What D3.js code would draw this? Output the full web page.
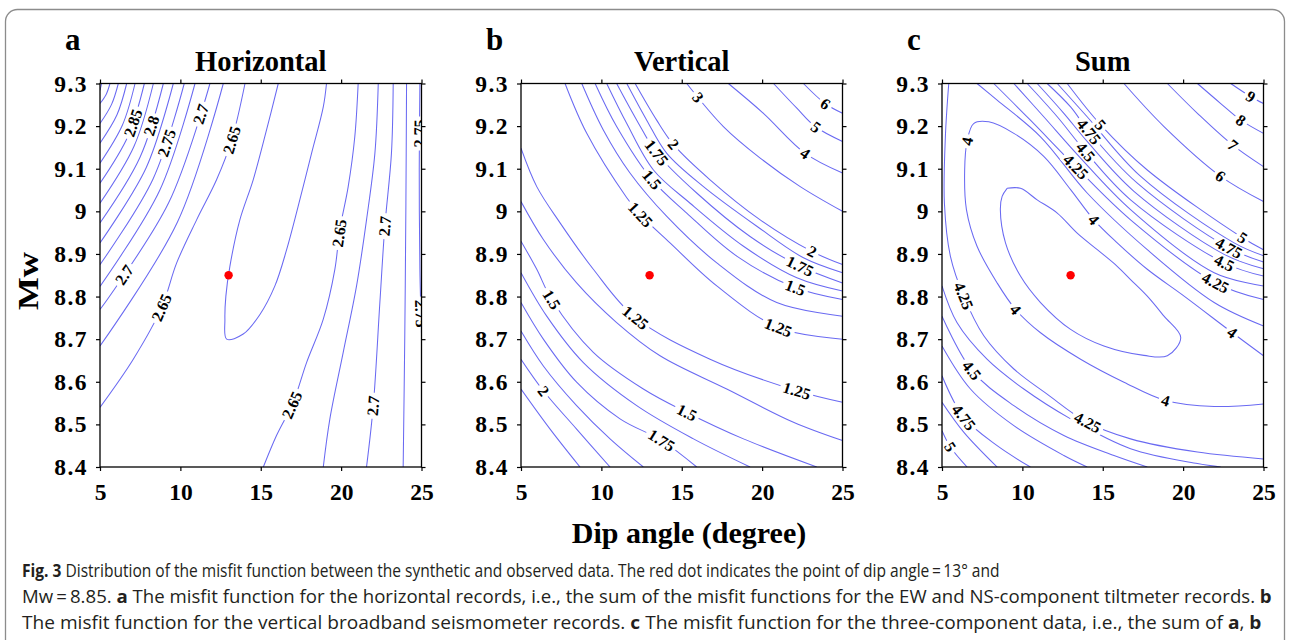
<!DOCTYPE html>
<html><head><meta charset="utf-8">
<script src="https://cdn.jsdelivr.net/npm/d3@7"></script>
<style>body{margin:0;background:#fff}</style></head>
<body><svg id="fig" width="1290" height="640"></svg>
<script>
// ---------- data ----------
const xTickValues=[5,10,15,20,25];
const xTickLabels=["5","10","15","20","25"];
const yTickValues=[8.4,8.5,8.6,8.7,8.8,8.9,9.0,9.1,9.2,9.3];
const yTickLabels=["8.4","8.5","8.6","8.7","8.8","8.9","9","9.1","9.2","9.3"];
const panelLetters=["a","b","c"];
const panelTitles=["Horizontal","Vertical","Sum"];
const bestDip=13, bestMw=8.85;
const xLabel="Dip angle (degree)", yLabel="Mw";

// contour lines: [level, [[dip, Mw], ...]]
const horizontalLines=[
 ["2.975",[[5.10,9.3],[5,9.284]]],
 ["2.95",[[5.62,9.3],[5.39,9.275],[5,9.253]]],
 ["2.925",[[6.14,9.3],[5.72,9.251],[5,9.206]]],
 ["2.9",[[6.66,9.3],[6.05,9.226],[5,9.160]]],
 ["2.875",[[7.18,9.3],[6.39,9.202],[5,9.113]]],
 ["2.85",[[7.76,9.3],[6.75,9.177],[5,9.066]]],
 ["2.825",[[8.32,9.3],[7.11,9.152],[5,9.019]]],
 ["2.8",[[8.94,9.3],[7.49,9.127],[5,8.973]]],
 ["2.775",[[9.56,9.3],[7.88,9.103],[5,8.926]]],
 ["2.75",[[10.24,9.3],[8.30,9.076],[5,8.875]]],
 ["2.725",[[10.91,9.3],[8.71,9.049],[5,8.824]]],
 ["2.7",[[11.84,9.3],[9.27,9.020],[5,8.770]]],
 ["2.675",[[12.67,9.3],[9.82,8.975],[5,8.684]]],
 ["2.65",[[14.02,9.3],[13.19,9.167],[12.25,9.074],[11.01,8.980],[9.77,8.879],[8.83,8.774],[7.07,8.653],[5,8.540]]],
 ["2.625",[[16.09,9.3],[15.36,9.191],[14.53,9.074],[13.70,8.980],[13.08,8.871],[12.83,8.801],[12.77,8.747],[12.88,8.700],[13.91,8.712],[14.95,8.758],[15.88,8.825],[16.61,8.910],[17.33,9.012],[18.16,9.136],[18.89,9.245],[19.09,9.3]]],
 ["2.65",[[21.06,9.3],[20.85,9.175],[20.44,9.058],[19.92,8.957],[19.61,8.864],[18.89,8.747],[17.85,8.645],[17.02,8.552],[15.98,8.474],[15.16,8.4]]],
 ["2.675",[[22.31,9.3],[22.10,9.136],[21.58,8.980],[20.96,8.825],[20.13,8.669],[19.30,8.513],[18.89,8.4]]],
 ["2.7",[[23.24,9.3],[23.13,9.136],[22.72,8.965],[22.41,8.786],[22.0,8.544],[21.58,8.4]]],
 ["2.725",[[24.07,9.3],[24.03,9.019],[23.96,8.708],[23.86,8.4]]],
 ["2.75",[[24.90,9.3],[24.86,9.097],[24.90,8.864],[25.0,8.715]]]
];
const horizontalLabels=[
 ["2.85",6.76,9.211],["2.8",7.90,9.203],["2.75",8.94,9.164],["2.7",11.32,9.227],
 ["2.65",13.19,9.167],["2.7",6.45,8.852],["2.65",8.83,8.774],["2.65",19.82,8.949],
 ["2.7",22.72,8.965],["2.65",17.02,8.544],["2.7",22.0,8.544],["2.75",24.86,9.183],["2.75",24.92,8.76]
];

const verticalLines=[
 ["6",[[22.57,9.3],[23.92,9.253],[25,9.230]]],
 ["5",[[20.71,9.3],[22.16,9.242],[23.30,9.199],[25,9.164]]],
 ["4",[[17.90,9.3],[20.08,9.230],[22.68,9.136],[25,9.090]]],
 ["3",[[15.31,9.3],[17.59,9.199],[19.88,9.125],[22.37,9.058],[25,9.0]]],
 ["2",[[12.10,9.3],[13.44,9.214],[14.48,9.157],[16.76,9.074],[19.88,8.980],[23.09,8.906],[25,8.875]]],
 ["1.875",[[11.58,9.3],[12.82,9.214],[14.07,9.136],[16.35,9.058],[19.67,8.965],[22.57,8.891],[25,8.856]]],
 ["1.75",[[10.95,9.3],[12.20,9.214],[13.44,9.137],[15.93,9.043],[19.25,8.941],[22.37,8.871],[25,8.832]]],
 ["1.625",[[10.33,9.3],[11.58,9.206],[13.24,9.097],[15.52,9.019],[18.84,8.918],[22.16,8.844],[25,8.813]]],
 ["1.5",[[9.61,9.3],[10.95,9.199],[13.13,9.075],[15.31,8.996],[18.42,8.895],[22.05,8.821],[25,8.793]]],
 ["1.375",[[8.78,9.3],[10.12,9.191],[11.78,9.090],[14.07,8.988],[17.18,8.879],[20.91,8.786],[25,8.754]]],
 ["1.25",[[7.74,9.3],[9.09,9.183],[11.58,9.032],[12.41,8.993],[14.27,8.926],[17.18,8.825],[21.02,8.727],[25,8.700]]],
 ["1.25",[[5,9.148],[5.98,9.058],[7.43,8.973],[9.50,8.864],[12.10,8.751],[16.76,8.653],[22.16,8.579],[25,8.552]]],
 ["1.375",[[5,9.023],[6.39,8.934],[8.46,8.832],[10.95,8.739],[13.65,8.661],[17.80,8.583],[21.95,8.505],[25,8.462]]],
 ["1.5",[[5,8.930],[5.98,8.864],[6.91,8.793],[9.50,8.669],[12.61,8.583],[15.31,8.528],[18.84,8.466],[23.40,8.4]]],
 ["1.625",[[5,8.856],[6.60,8.754],[8.88,8.645],[12.20,8.544],[15.73,8.466],[19.25,8.4]]],
 ["1.75",[[5,8.786],[6.39,8.700],[8.46,8.599],[11.16,8.513],[13.76,8.462],[15.93,8.4]]],
 ["1.875",[[5,8.719],[6.39,8.637],[8.46,8.544],[10.54,8.466],[12.61,8.4]]],
 ["2",[[5,8.653],[6.39,8.579],[8.46,8.489],[10.54,8.4]]],
 ["2.125",[[5,8.583],[6.81,8.489],[8.67,8.4]]]
];
const verticalLabels=[
 ["6",23.92,9.253],["5",23.30,9.195],["4",22.68,9.136],["3",15.83,9.261],
 ["2",14.48,9.157],["1.75",13.44,9.137],["1.5",13.13,9.075],["1.25",12.41,8.993],
 ["2",23.09,8.906],["1.75",22.37,8.871],["1.5",22.05,8.821],["1.25",21.02,8.727],
 ["1.25",12.10,8.751],["1.25",22.16,8.579],["1.5",6.91,8.793],["1.5",15.31,8.528],
 ["1.75",13.76,8.462],["2",6.39,8.579]
];

const sumLines=[
 ["9",[[22.96,9.3],[24.21,9.269],[25,9.253]]],
 ["8",[[20.89,9.3],[22.34,9.253],[23.59,9.214],[25,9.183]]],
 ["7",[[19.02,9.3],[20.89,9.230],[23.07,9.156],[25,9.105]]],
 ["6",[[16.32,9.3],[18.81,9.199],[22.34,9.082],[25,9.023]]],
 ["5",[[12.79,9.3],[14.87,9.203],[17.77,9.097],[23.69,8.938],[25,8.910]]],
 ["4.875",[[12.17,9.3],[14.03,9.222],[17.36,9.082],[23.17,8.926],[25,8.896]]],
 ["4.75",[[11.54,9.3],[13.0,9.245],[14.14,9.187],[17.15,9.066],[22.86,8.914],[25,8.881]]],
 ["4.625",[[10.92,9.3],[12.58,9.230],[14.03,9.164],[16.94,9.047],[22.55,8.899],[25,8.865]]],
 ["4.5",[[10.30,9.3],[12.17,9.222],[13.93,9.140],[16.73,9.027],[22.55,8.879],[25,8.848]]],
 ["4.375",[[9.47,9.3],[11.33,9.222],[13.62,9.125],[16.73,9.004],[21.93,8.856],[25,8.825]]],
 ["4.25",[[8.22,9.3],[10.50,9.214],[13.31,9.105],[16.73,8.980],[22.03,8.832],[25,8.793]]],
 ["4.125",[[7.18,9.3],[8.43,9.261],[11.13,9.175],[14.03,9.043],[17.77,8.910],[21.93,8.786],[25,8.731]]],
 ["4",[[25,8.661],[23.07,8.715],[20.06,8.801],[17.77,8.864],[15.90,8.926],[14.45,8.980],[13.0,9.051],[11.33,9.129],[9.47,9.183],[7.91,9.210],[6.97,9.206],[6.56,9.164],[6.41,9.097],[6.52,9.004],[7.18,8.918],[8.43,8.832],[9.57,8.770],[11.13,8.715],[13.62,8.653],[16.32,8.599],[18.91,8.556],[21.93,8.542],[25,8.548]]],
 ["3.875",[[9.05,9.054],[9.88,9.054],[10.92,9.027],[12.17,8.996],[13.41,8.949],[14.66,8.910],[15.90,8.871],[16.73,8.840],[17.77,8.801],[18.81,8.754],[19.85,8.704],[19.02,8.661],[17.56,8.662],[15.07,8.684],[13.0,8.723],[11.13,8.786],[9.88,8.848],[8.95,8.926],[8.63,9.004],[8.74,9.035],[9.05,9.054]]],
 ["4.25",[[5.42,9.3],[5.21,9.175],[5.15,9.019],[5.52,8.895],[6.35,8.801],[7.60,8.708],[9.47,8.630],[11.54,8.571],[14.03,8.505],[16.73,8.466],[20.89,8.435],[25,8.419]]],
 ["4.375",[[5,8.825],[5.93,8.739],[7.80,8.653],[10.09,8.583],[13.0,8.513],[16.73,8.443],[20.89,8.408],[22.34,8.4]]],
 ["4.5",[[5,8.754],[6.87,8.626],[9.47,8.544],[12.58,8.474],[15.70,8.427],[17.77,8.4]]],
 ["4.625",[[5,8.684],[6.77,8.583],[9.47,8.497],[12.58,8.427],[14.03,8.4]]],
 ["4.75",[[5,8.614],[6.35,8.517],[8.43,8.450],[10.50,8.4]]],
 ["4.875",[[5,8.552],[6.35,8.482],[8.43,8.4]]],
 ["5",[[5,8.485],[5.52,8.447],[6.56,8.4]]]
];
const sumLabels=[
 ["9",24.21,9.269],["8",23.59,9.214],["7",23.07,9.156],["6",22.34,9.082],
 ["5",14.87,9.203],["4.75",14.14,9.187],["4.5",13.93,9.140],["4.25",13.31,9.105],
 ["4",6.56,9.164],["4",14.45,8.980],["5",23.69,8.938],["4.75",22.86,8.914],
 ["4.5",22.55,8.879],["4.25",22.03,8.832],["4",23.07,8.715],["4",9.57,8.770],
 ["4",18.91,8.556],["4.25",6.35,8.801],["4.5",6.87,8.626],["4.75",6.35,8.517],
 ["5",5.52,8.447],["4.25",14.03,8.505]
];

const captionLines=[
 [["Fig. 3",true],["  Distribution of the misfit function between the synthetic and observed data. The red dot indicates the point of dip angle\u2009=\u200913° and",false]],
 [["Mw\u2009=\u20098.85. ",false],["a",true],[" The misfit function for the horizontal records, i.e., the sum of the misfit functions for the EW and NS-component tiltmeter records. ",false],["b",true]],
 [["The misfit function for the vertical broadband seismometer records. ",false],["c",true],[" The misfit function for the three-component data, i.e., the sum of ",false],["a",true],[", ",false],["b",true]]
];

// ---------- drawing ----------
const svg=d3.select("#fig");
const defs=svg.append("defs");
svg.append("rect").attr("width",1290).attr("height",640).attr("fill","#fff");
svg.append("rect").attr("x",5.5).attr("y",9.5).attr("width",1279).attr("height",700)
  .attr("rx",12).attr("fill","none").attr("stroke","#8c8c8c").attr("stroke-width",1.3);

const serif="'Liberation Serif','Times New Roman',serif";
const plotTop=83.5, plotBottom=467, plotW=321.5;
const lefts=[100,521,942];
const panelData=[[horizontalLines,horizontalLabels],[verticalLines,verticalLabels],[sumLines,sumLabels]];
const lineColor="#6a6af2";

panelData.forEach(([lines,labels],i)=>{
  const x=d3.scaleLinear().domain([5,25]).range([lefts[i],lefts[i]+plotW]);
  const y=d3.scaleLinear().domain([8.4,9.3]).range([plotBottom,plotTop]);
  const cid="clip"+i;
  defs.append("clipPath").attr("id",cid).append("rect")
    .attr("x",lefts[i]).attr("y",plotTop).attr("width",plotW).attr("height",plotBottom-plotTop);
  const g=svg.append("g").attr("clip-path",`url(#${cid})`);
  const line=d3.line().x(d=>x(d[0])).y(d=>y(d[1])).curve(d3.curveCatmullRom.alpha(0.5));
  const paths=lines.map(([lev,pts])=>({lev,node:g.append("path").attr("d",line(pts))
     .attr("fill","none").attr("stroke",lineColor).attr("stroke-width",1.05).node()}));
  labels.forEach(([txt,dx,my])=>{
    const tx=x(dx), ty=y(my);
    let best=null;
    paths.filter(q=>q.lev===txt).forEach(q=>{
      const L=q.node.getTotalLength();
      for(let s=0;s<=L;s+=1){const p=q.node.getPointAtLength(s);
        const d=(p.x-tx)**2+(p.y-ty)**2; if(!best||d<best.d)best={d,s,q,L};}
    });
    let px=tx,py=ty,ang=0;
    if(best){
      const a=best.q.node.getPointAtLength(Math.max(0,best.s-5));
      const b=best.q.node.getPointAtLength(Math.min(best.L,best.s+5));
      const p0=best.q.node.getPointAtLength(best.s);
      px=p0.x;py=p0.y;ang=Math.atan2(b.y-a.y,b.x-a.x)*180/Math.PI;
      if(ang>90)ang-=180; if(ang<=-90)ang+=180;
    }
    const lg=g.append("g").attr("transform",`translate(${px},${py}) rotate(${ang})`);
    const t=lg.append("text").text(txt).attr("text-anchor","middle").attr("dy","0.34em")
      .attr("font-family",serif).attr("font-weight","bold").attr("font-size",16).attr("fill","#000");
    const w=t.node().getComputedTextLength();
    lg.insert("rect","text").attr("x",-w/2-3).attr("y",-6).attr("width",w+6).attr("height",12).attr("fill","#fff");
  });
  // red dot
  svg.append("circle").attr("cx",x(bestDip)).attr("cy",y(bestMw)).attr("r",4.2).attr("fill","#f00");
  // axes
  const styleAxis=(sel,labelsOn,ls)=>{
    sel.select(".domain").remove();
    sel.selectAll(".tick line").attr("stroke","#000").attr("stroke-width",1.2);
    sel.selectAll(".tick text").attr("font-family",serif).attr("font-weight","bold")
       .attr("font-size",23.5).attr("letter-spacing",ls).attr("fill","#000");
    if(!labelsOn) sel.selectAll(".tick text").remove();
  };
  svg.append("g").attr("transform",`translate(0,${plotBottom})`)
    .call(d3.axisBottom(x).tickValues(xTickValues).tickFormat((d,k)=>xTickLabels[k]).tickSize(4).tickPadding(12))
    .call(s=>styleAxis(s,true,0));
  svg.append("g").attr("transform",`translate(0,${plotTop})`)
    .call(d3.axisTop(x).tickValues(xTickValues).tickSize(4)).call(s=>styleAxis(s,false,0));
  svg.append("g").attr("transform",`translate(${lefts[i]},0)`)
    .call(d3.axisLeft(y).tickValues(yTickValues).tickFormat((d,k)=>yTickLabels[k]).tickSize(4).tickPadding(8))
    .call(s=>styleAxis(s,true,1.5));
  svg.append("g").attr("transform",`translate(${lefts[i]+plotW},0)`)
    .call(d3.axisRight(y).tickValues(yTickValues).tickSize(4)).call(s=>styleAxis(s,false,0));
  svg.append("rect").attr("x",lefts[i]).attr("y",plotTop).attr("width",plotW).attr("height",plotBottom-plotTop)
    .attr("fill","none").attr("stroke","#000").attr("stroke-width",1.3);
  // letter & title
  svg.append("text").attr("x",lefts[i]-35).attr("y",50).text(panelLetters[i])
    .attr("font-family",serif).attr("font-weight","bold").attr("font-size",31);
  svg.append("text").attr("x",lefts[i]+plotW/2).attr("y",71).attr("text-anchor","middle").text(panelTitles[i])
    .attr("font-family",serif).attr("font-weight","bold").attr("font-size",28.5);
});

svg.append("text").attr("transform","translate(38,281) rotate(-90)").attr("text-anchor","middle")
  .text(yLabel).attr("font-family",serif).attr("font-weight","bold").attr("font-size",29)
  .attr("textLength",58).attr("lengthAdjust","spacingAndGlyphs");
svg.append("text").attr("x",689).attr("y",543).attr("text-anchor","middle").text(xLabel)
  .attr("font-family",serif).attr("font-weight","bold").attr("font-size",30);

// caption lines, each fitted to the width it has in the reference
const capWidths=[978,1251,1240];
const capG=svg.append("g");
captionLines.forEach((parts,k)=>{
  const t=capG.append("text").attr("x",0).attr("y",0)
    .attr("font-family","'Open Sans','Noto Sans',sans-serif").attr("font-size",18).attr("fill","#231f20");
  parts.forEach(([s,b])=>t.append("tspan").text(s).attr("font-weight",b?"bold":"normal"));
  const sc=capWidths[k]/t.node().getComputedTextLength();
  t.attr("transform",`translate(22,${577+k*26}) scale(${sc},1)`);
});
</script></body></html>
